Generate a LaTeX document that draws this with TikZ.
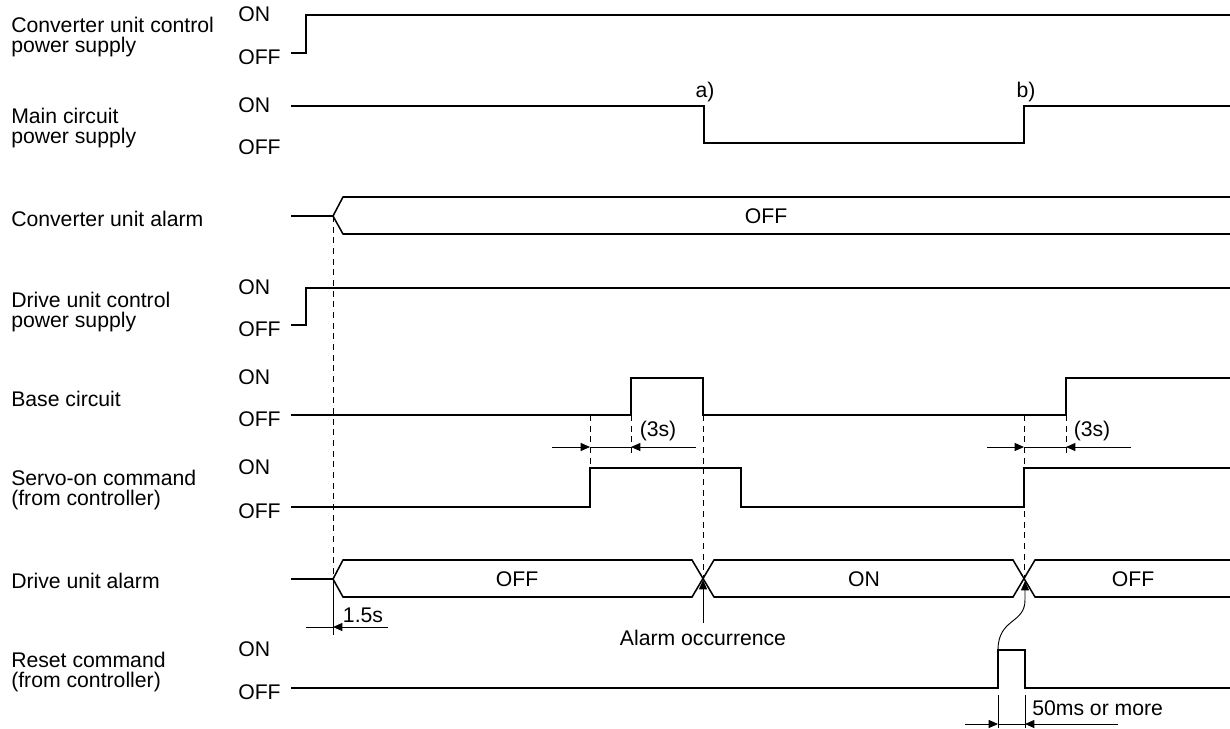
\documentclass[tikz,border=0pt]{standalone}
\usepackage{fontspec}
\setmainfont{Liberation Sans}
\usepackage{tikz}
\usetikzlibrary{arrows.meta}
\newcommand{\tdfont}{\fontsize{15.9}{15.5}\selectfont}
\tikzset{
  sigline/.style={line width=1.15pt},
  leadline/.style={line width=1.5pt},
  guideline/.style={dash pattern=on 4.5pt off 3.5pt, line width=0.6pt},
  dimline/.style={line width=0.7pt},
  dimarrow/.style={-{Triangle[length=7pt,width=6pt]}, line width=0.7pt},
  rowlabel/.style={anchor=west, align=left, inner sep=0pt, font=\tdfont},
  levellabel/.style={anchor=west, inner sep=0pt, font=\tdfont},
  buslabel/.style={inner sep=0pt, font=\tdfont},
}

\begin{document}
\begin{tikzpicture}[x=0.75pt, y=-0.75pt]
  \useasboundingbox (0,0) rectangle (1230,728);

  % Signal names
  \node[rowlabel] (convCtrlLbl) at (11,37) {Converter unit control\\power supply};
  \node[rowlabel] (mainLbl) at (11,128) {Main circuit\\power supply};
  \node[rowlabel] (convAlmLbl) at (11,219) {Converter unit alarm};
  \node[rowlabel] (drvCtrlLbl) at (11,312) {Drive unit control\\power supply};
  \node[rowlabel] (baseLbl) at (11,399) {Base circuit};
  \node[rowlabel] (servoLbl) at (11,490) {Servo-on command\\(from controller)};
  \node[rowlabel] (drvAlmLbl) at (11,580.5) {Drive unit alarm};
  \node[rowlabel] (resetLbl) at (11,672) {Reset command\\(from controller)};

  % ON / OFF levels
  \node[levellabel] (convCtrlOn) at (238,14.5) {ON};
  \node[levellabel] (convCtrlOff) at (238,57.5) {OFF};
  \node[levellabel] (mainOn) at (238,105.5) {ON};
  \node[levellabel] (mainOff) at (238,147.5) {OFF};
  \node[levellabel] (drvCtrlOn) at (238,287.5) {ON};
  \node[levellabel] (drvCtrlOff) at (238,329.5) {OFF};
  \node[levellabel] (baseOn) at (238,377.5) {ON};
  \node[levellabel] (baseOff) at (238,419.5) {OFF};
  \node[levellabel] (servoOn) at (238,467.5) {ON};
  \node[levellabel] (servoOff) at (238,511.5) {OFF};
  \node[levellabel] (resetOn) at (238,649.5) {ON};
  \node[levellabel] (resetOff) at (238,692.5) {OFF};

  % Waveforms
  \draw[sigline] (291,53) -- (306,53) -- (306,15) -- (1230,15);
  \draw[sigline] (291,106) -- (704,106) -- (704,143) -- (1024,143)
    -- (1024,106) -- (1230,106);
  \node[buslabel, anchor=base] (markA) at (705,97) {a)};
  \node[buslabel, anchor=base] (markB) at (1026,97) {b)};
  \draw[sigline] (291,325) -- (306,325) -- (306,288) -- (1230,288);
  \draw[sigline] (291,415) -- (631,415) -- (631,378) -- (703,378)
    -- (703,415) -- (1066,415) -- (1066,378) -- (1230,378);
  \draw[sigline] (291,507) -- (590,507) -- (590,468) -- (741,468)
    -- (741,507) -- (1024,507) -- (1024,468) -- (1230,468);
  \draw[sigline] (291,688) -- (998,688) -- (998,650) -- (1025,650)
    -- (1025,688) -- (1230,688);

  % Alarm buses
  \draw[leadline] (291,216) -- (333,216);
  \draw[sigline] (333,216) -- (343,197) -- (1230,197);
  \draw[sigline] (333,216) -- (343,234) -- (1230,234);
  \node[buslabel] (convAlmOff) at (766,216) {OFF};
  \draw[leadline] (291,579) -- (333,579);
  \draw[sigline] (333,579) -- (343,560) -- (692,560)
    -- (714,597) -- (1013,597) -- (1035,560) -- (1230,560);
  \draw[sigline] (333,579) -- (343,597) -- (692,597) -- (714,560)
    -- (1013,560) -- (1035,597) -- (1230,597);
  \node[buslabel] (drvAlmOff1) at (517,579) {OFF};
  \node[buslabel] (drvAlmOn) at (864,579) {ON};
  \node[buslabel] (drvAlmOff2) at (1133,579) {OFF};
  \coordinate (almCross) at (703,580);
  \coordinate (rstCross) at (1025,581);

  % Guide lines
  \draw[guideline] (333,216) -- (333,579);
  \draw[guideline] (590,415) -- (590,468);
  \draw[guideline] (631,415) -- (631,453);
  \draw[guideline] (703,415) -- (703,579);
  \draw[guideline] (1024,415) -- (1024,579);
  \draw[guideline] (1066,415) -- (1066,453);

  % (3s) intervals
  \draw[dimarrow] (552,447) -- (590,447);
  \draw[dimline] (590,447) -- (631,447);
  \draw[dimarrow] (696,447) -- (631,447);
  \node[buslabel] (waitA) at (658,431) {(3s)};
  \draw[dimarrow] (987,447) -- (1024,447);
  \draw[dimline] (1024,447) -- (1066,447);
  \draw[dimarrow] (1131,447) -- (1066,447);
  \node[buslabel] (waitB) at (1092,431) {(3s)};

  % 1.5s
  \draw[dimline] (333,579) -- (333,635);
  \draw[dimline] (306,627) -- (333,627);
  \draw[dimarrow] (388,627) -- (333,627);
  \node[buslabel] (delayTxt) at (363,615) {1.5s};

  % Alarm occurrence
  \node[buslabel] (almTxt) at (703,638) {Alarm occurrence};
  \draw[dimarrow] (703,623) -- (almCross);

  % Reset
  \draw[dimarrow] (998,650) .. controls (998,618) and (1025,624) .. (1025,600)
    -- (rstCross);
  \draw[dimline] (998,695) -- (998,728);
  \draw[dimline] (1025,695) -- (1025,728);
  \draw[dimarrow] (965,724) -- (998,724);
  \draw[dimline] (998,724) -- (1025,724);
  \draw[dimarrow] (1118,724) -- (1025,724);
  \node[buslabel, anchor=west] (minTxt) at (1032,708) {50ms or more};
\end{tikzpicture}
\end{document}
